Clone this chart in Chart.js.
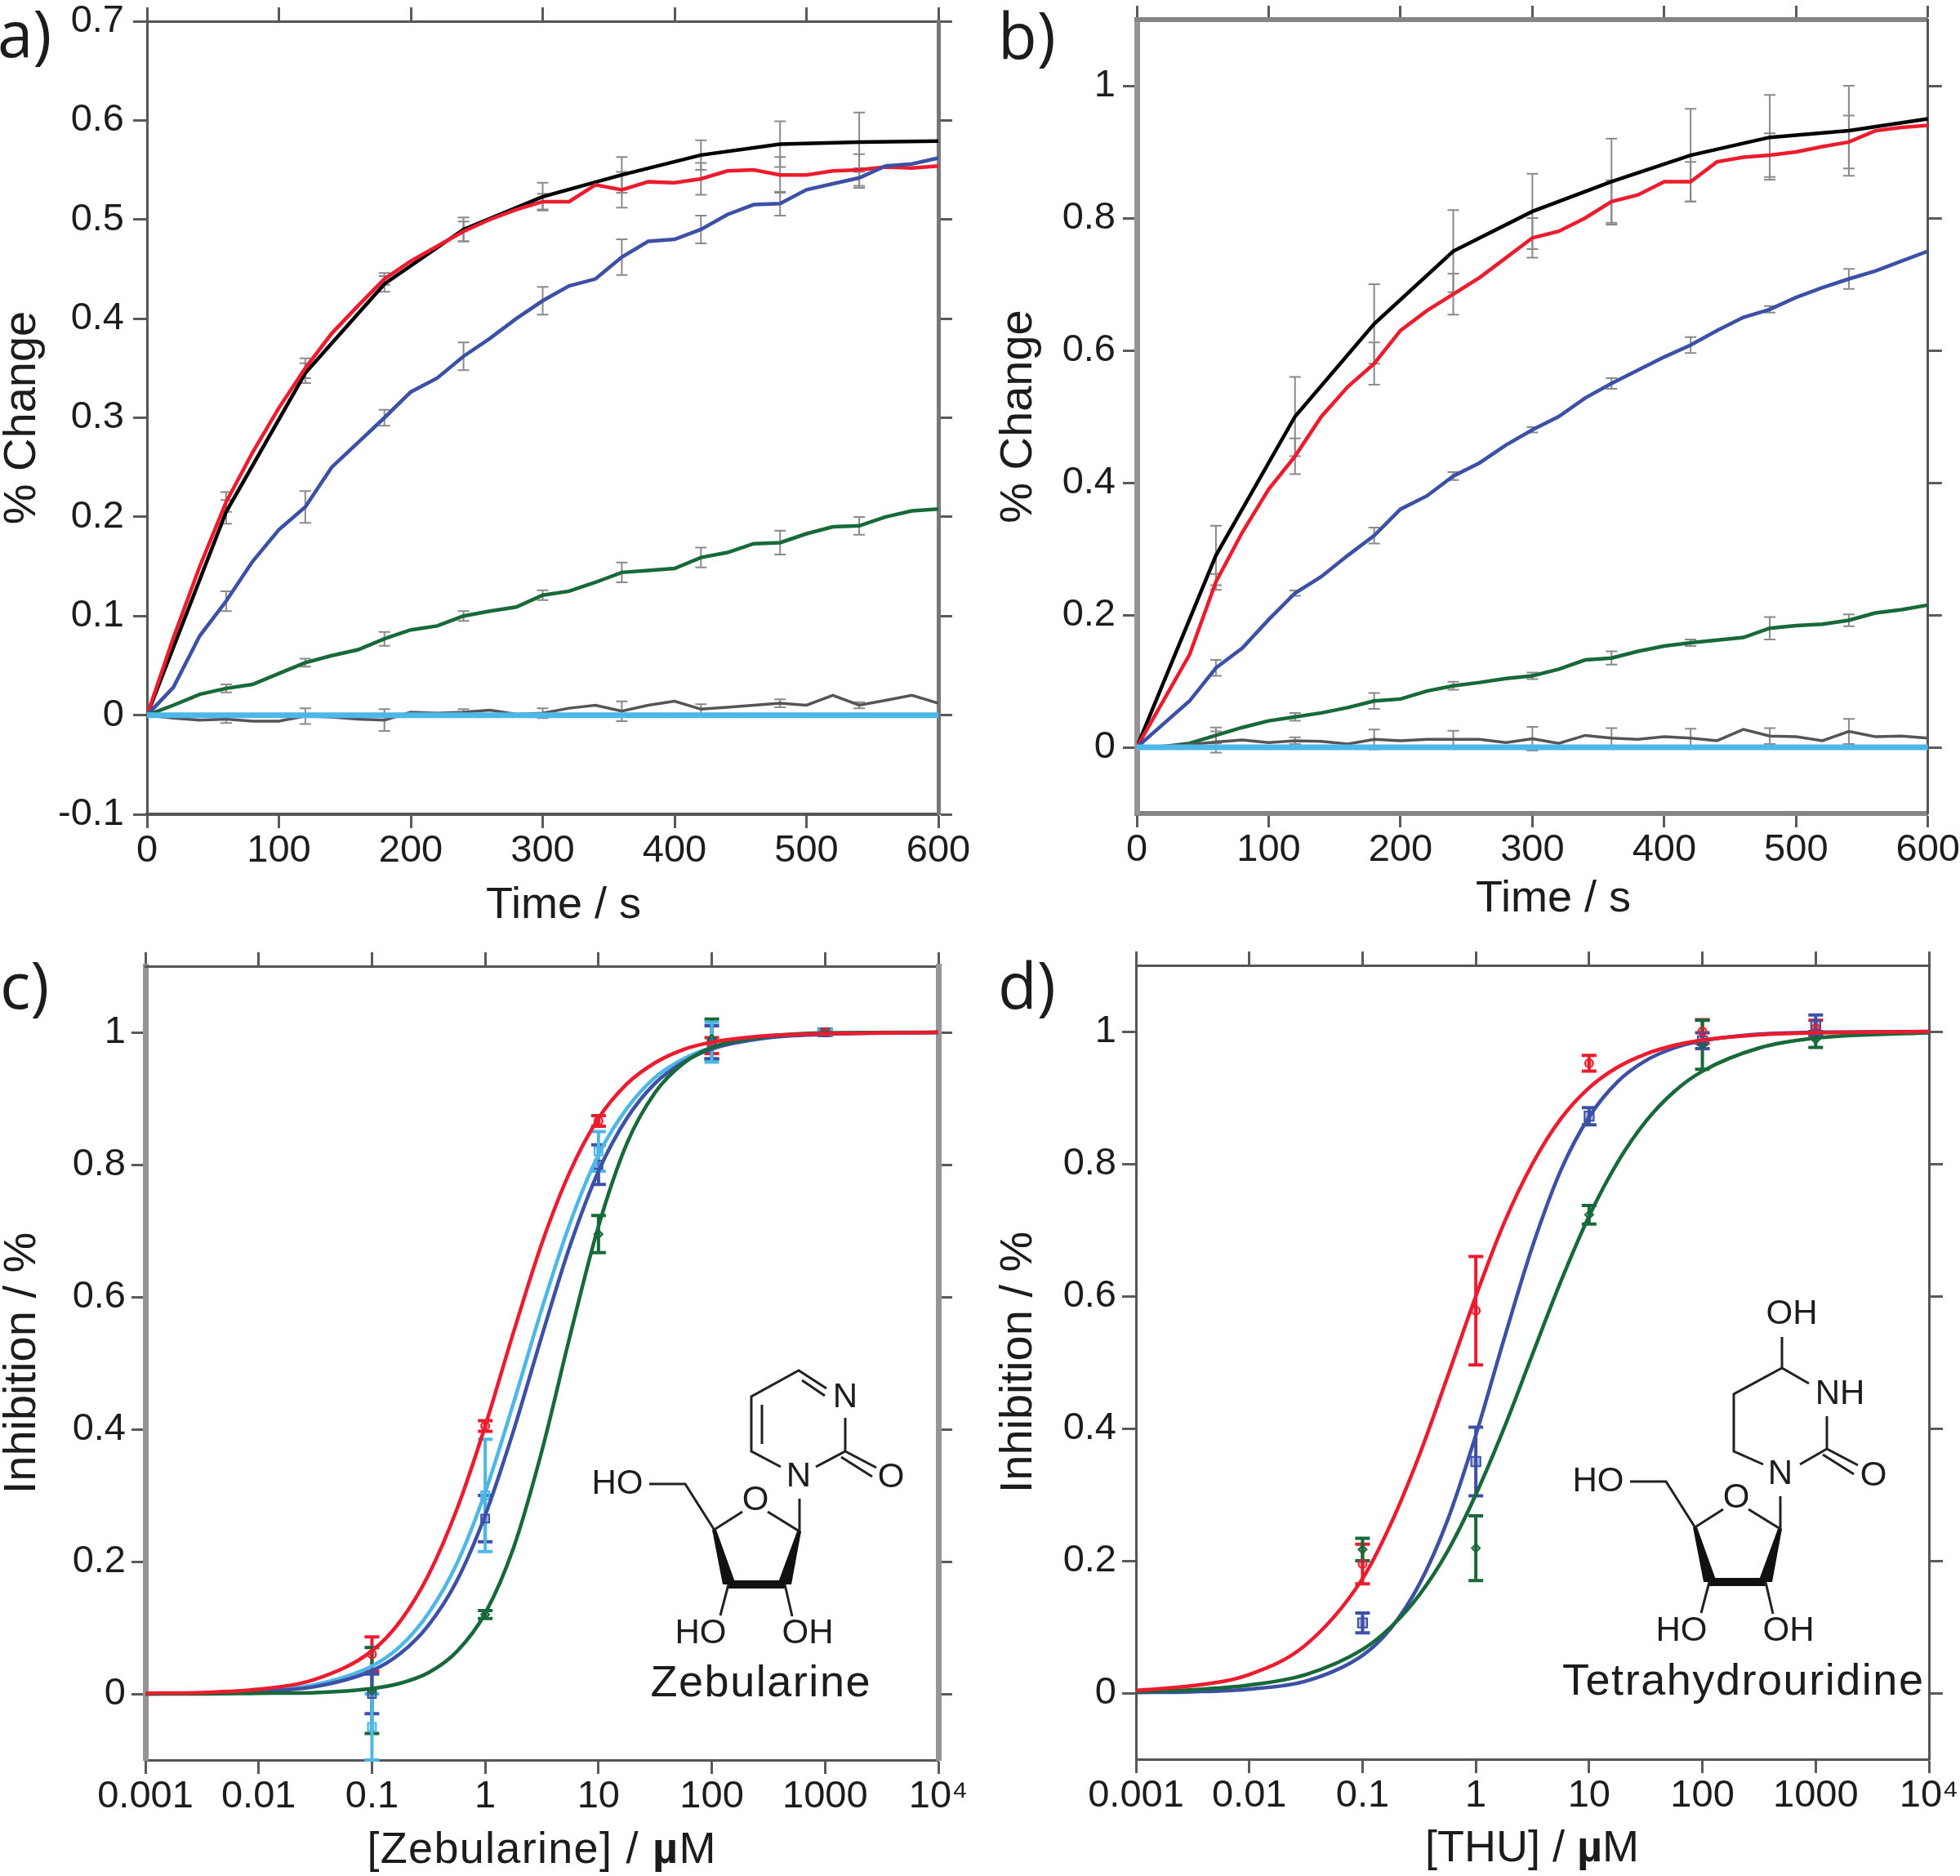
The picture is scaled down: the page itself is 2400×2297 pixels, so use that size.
<!DOCTYPE html>
<html>
<head>
<meta charset="utf-8">
<title>Inhibition kinetics</title>
<script src="https://cdn.jsdelivr.net/npm/chart.js@4"></script>
<style>
  html, body { margin: 0; padding: 0; background: #fff; overflow: hidden; width: 2400px; height: 2297px; }
  #page { position: relative; width: 2400px; height: 2297px; filter: blur(0.6px); overflow: hidden; }
  canvas { position: absolute; }
  svg { position: absolute; left: 0; top: 0; }
  svg text { font-family: "Liberation Sans", Arial, sans-serif; fill: #1c1c1c; }
  svg .letter { font-family: "Open Sans", sans-serif; font-size: 78px; }
  svg .xtitle { font-size: 54px; text-anchor: middle; }
  svg .atom { font-size: 42px; text-anchor: middle; }
  svg .name { font-size: 54px; text-anchor: middle; }
  svg .bond { stroke: #222; stroke-width: 3; fill: none; }
</style>
</head>
<body>
<div id="page">
  <canvas id="a" style="left:0;top:-60px" width="1260" height="1190"></canvas>
  <canvas id="b" style="left:1200px;top:-60px" width="1200" height="1190"></canvas>
  <canvas id="c" style="left:0;top:1130px" width="1260" height="1167"></canvas>
  <canvas id="d" style="left:1200px;top:1130px" width="1200" height="1167"></canvas>

  <svg width="2400" height="2297" viewBox="0 0 2400 2297">
    <defs>
      <g id="ribose">
        <path class="bond" d="M795 1817H839L874.500 1873L909 1851M940 1851L979 1875V1835"/>
        <polygon points="872,1873 877,1873 901,1940 885,1940" fill="#111"/>
        <polygon points="976,1875 981,1875 969,1940 952,1940" fill="#111"/>
        <path d="M892 1940H961" stroke="#111" stroke-width="10"/>
        <path class="bond" d="M892 1940L882 1978M961 1940L970 1979"/>
        <text class="atom" x="756" y="1829">HO</text>
        <text class="atom" x="925" y="1849">O</text>
        <text class="atom" x="858" y="2012">HO</text>
        <text class="atom" x="989" y="2012">OH</text>
      </g>
    </defs>

    <text class="letter" x="-3" y="70">a)</text>
    <text class="letter" x="1222" y="72">b)</text>
    <text class="letter" x="0" y="1235">c)</text>
    <text class="letter" x="1222" y="1235">d)</text>

    <text class="xtitle" x="690" y="1124">Time / s</text>
    <text class="xtitle" x="1902" y="1116">Time / s</text>
    <text class="xtitle" x="663" y="2281" textLength="427">[Zebularine] / <tspan font-weight="bold">µ</tspan>M</text>
    <text class="xtitle" x="1876" y="2279">[THU] / <tspan font-weight="bold">µ</tspan>M</text>

    <!-- Zebularine -->
    <use href="#ribose"/>
    <path class="bond" d="M956 1796L920 1777V1710L978 1678L1012 1700M1035 1736V1777L999 1796M933 1720V1768M982 1690L1010 1709M1035 1777L1073 1797M1030 1784L1068 1808"/>
    <text class="atom" x="978" y="1820">N</text>
    <text class="atom" x="1035" y="1723">N</text>
    <text class="atom" x="1091" y="1821">O</text>
    <text class="name" x="931" y="2077" textLength="269">Zebularine</text>

    <!-- Tetrahydrouridine -->
    <use href="#ribose" transform="translate(1201,-3)"/>
    <path class="bond" d="M2159 1793L2123 1777V1707L2182 1675L2215 1694M2182 1675V1637M2237 1734V1774L2204 1793M2237 1774L2275 1794M2232 1781L2270 1805"/>
    <text class="atom" x="2180" y="1817">N</text>
    <text class="atom" x="2253" y="1719">NH</text>
    <text class="atom" x="2194" y="1621">OH</text>
    <text class="atom" x="2294" y="1819">O</text>
    <text class="name" x="2134" y="2075" textLength="442">Tetrahydrouridine</text>
  </svg>
</div>

<script>
// kinetics, panels a and b (sampled every 20 s, the black fits every 60 s)
const times = [0,20,40,60,80,100,120,140,160,180,200,220,240,260,280,300,320,340,360,380,400,420,440,460,480,500,520,540,560,580,600];
const fitTimes = [0,60,120,180,240,300,360,420,480,540,600];
const errTimes = [60,120,180,240,300,360,420,480,540];
const cyanTimes = [0,600];
const cyanValues = [0,0];

const aBlack = [0,.205,.345,.435,.49,.523,.545,.565,.576,.578,.579];
const aRed = [0,.078,.15,.215,.265,.31,.35,.385,.413,.44,.458,.473,.488,.5,.51,.518,.518,.535,.53,.538,.537,.541,.549,.55,.545,.545,.549,.55,.553,.552,.554];
const aBlue = [0,.028,.08,.115,.155,.187,.21,.25,.275,.3,.326,.34,.362,.38,.4,.418,.433,.44,.462,.478,.48,.49,.505,.515,.516,.53,.536,.542,.554,.556,.562];
const aGreen = [0,.01,.021,.027,.031,.042,.053,.06,.066,.077,.086,.09,.1,.105,.109,.121,.125,.134,.144,.146,.148,.159,.164,.173,.174,.183,.19,.191,.2,.206,.208];
const aGrey = [0,-.003,-.005,-.004,-.006,-.006,-.001,-.002,-.004,-.005,.003,.002,.003,.005,.001,.002,.007,.01,.004,.01,.014,.006,.008,.01,.012,.01,.02,.01,.015,.02,.012];
const aBlackErr = [.012,.01,.008,.012,.014,.018,.015,.023,.03];
const aRedErr = [.01,.01,.006,.01,.008,.018,.016,.018,.016];
const aBlueErr = [.01,.016,.008,.014,.014,.018,.014,.012,.01];
const aGreenErr = [.004,.004,.007,.005,.005,.01,.01,.012,.009];
const aGreyErr = [.004,.008,.011,.003,.005,.01,.005,.004,.003];

const bBlack = [0,.29,.5,.64,.75,.81,.855,.895,.922,.932,.95];
const bRed = [0,.07,.14,.25,.325,.39,.44,.5,.545,.58,.63,.66,.685,.71,.74,.77,.78,.8,.825,.835,.855,.855,.885,.892,.895,.9,.908,.915,.932,.937,.94];
const bBlue = [0,.035,.07,.12,.15,.193,.233,.258,.29,.32,.36,.38,.41,.43,.457,.48,.5,.528,.55,.57,.59,.608,.63,.65,.662,.68,.695,.708,.72,.735,.75];
const bGreen = [0,.001,.006,.018,.03,.04,.046,.052,.06,.07,.073,.085,.093,.098,.104,.108,.118,.132,.135,.145,.153,.158,.162,.166,.18,.184,.186,.192,.203,.208,.215];
const bGrey = [0,.002,.004,.008,.011,.007,.01,.009,.005,.012,.01,.012,.012,.012,.007,.013,.006,.018,.014,.012,.016,.014,.01,.027,.017,.016,.01,.024,.016,.017,.014];
const bBlackErr = [.045,.06,.06,.062,.057,.065,.07,.064,.068];
const bRedErr = [.012,.027,.032,.031,.03,.032,.03,.033,.04];
const bBlueErr = [.012,.004,.012,.006,.004,.008,.012,.005,.015];
const bGreenErr = [.012,.006,.012,.006,.005,.01,.005,.017,.009];
const bGreyErr = [.016,.005,.015,.013,.018,.015,.014,.012,.019];

// dose response, panels c and d
const doseNodes = [0.001,0.00316,0.01,0.0316,0.1,0.178,0.316,0.562,1,1.78,3.16,5.62,10,17.8,31.6,56.2,100,316,1000,10000];
const dosePoints = [0.1,1,10,100,1000];

const cRedFit = [.001,.002,.007,.022,.065,.11,.18,.279,.405,.547,.681,.79,.87,.922,.954,.974,.985,.995,.998,1];
const cBlueFit = [0,.001,.004,.011,.035,.061,.104,.171,.27,.398,.541,.678,.79,.87,.923,.955,.975,.992,.997,1];
const cCyanFit = [0,.001,.005,.014,.042,.072,.122,.197,.305,.44,.582,.712,.815,.885,.932,.96,.977,.993,.998,1];
const cGreenFit = [0,0,.001,.002,.008,.016,.032,.064,.122,.221,.367,.542,.707,.832,.909,.953,.977,.994,.999,1];
const cRedPts = [.06,.405,.866,.98,1];
const cBluePts = [0,.265,.8,.985,1];
const cCyanPts = [-.05,.3,.82,.985,1];
const cGreenPts = [.005,.12,.695,.99,1];
const cRedErr = [.026,.008,.008,.012,.005];
const cBlueErr = [.03,.035,.03,.025,.005];
const cCyanErr = [.05,.085,.03,.03,.004];
const cGreenErr = [.065,.006,.028,.03,.004];

const dRedFit = [.004,.011,.028,.073,.173,.256,.359,.478,.6,.711,.8,.868,.915,.946,.966,.979,.987,.995,.998,1];
const dBlueFit = [.001,.002,.006,.018,.057,.098,.164,.261,.39,.536,.675,.79,.871,.924,.956,.975,.986,.996,.999,1];
const dGreenFit = [.002,.005,.012,.028,.066,.1,.148,.214,.3,.401,.512,.622,.721,.802,.864,.909,.94,.975,.99,.998];
const dRedPts = [.195,.578,.952,1,1.005];
const dBluePts = [.106,.35,.872,.986,1.01];
const dGreenPts = [.217,.219,.723,.98,.988];
const dRedErr = [.03,.082,.012,.018,.012];
const dBlueErr = [.015,.052,.013,.012,.015];
const dGreenErr = [.017,.049,.014,.037,.012];

// axes
const timeTicks = [0,100,200,300,400,500,600];
const aYTicks = [-.1,0,.1,.2,.3,.4,.5,.6,.7];
const fullYTicks = [0,.2,.4,.6,.8,1];
const doseTicks = [0.001,0.01,0.1,1,10,100,1000,10000];
const doseLabels = ['0.001','0.01','0.1','1','10','100','1000','10⁴'];

const RED = '#ec1c2e', BLUE = '#3c50a6', GREEN = '#17693a', CYAN = '#4db8e8', GREY = '#555555', BLACK = '#000000';
const THIN = [3, '#555555'], THICK = [7, '#959595'], MID = [6, '#858585'];
const FONT = '"Liberation Sans", Arial, sans-serif';

function series(xs, ys, color, width, smooth) {
  return {
    data: xs.map((x, i) => ({ x, y: ys[i] })),
    borderColor: color,
    borderWidth: width,
    pointRadius: 0,
    fill: false,
    tension: 0,
    cubicInterpolationMode: smooth ? 'monotone' : 'default'
  };
}

function points(xs, ys, color, style, radius) {
  return {
    data: xs.map((x, i) => ({ x, y: ys[i] })),
    showLine: false,
    pointStyle: style,
    pointRadius: radius,
    pointBorderColor: color,
    pointBorderWidth: 2,
    pointBackgroundColor: color + '66'
  };
}

// error bars go through the chart's own scales
function errorBars(sets) {
  return {
    id: 'errorBars',
    beforeDatasetsDraw(chart) {
      const { ctx, scales } = chart;
      ctx.save();
      sets.forEach(s => {
        ctx.strokeStyle = s.color;
        ctx.lineWidth = s.width;
        s.xs.forEach((x, i) => {
          const px = scales.x.getPixelForValue(x);
          const top = scales.y.getPixelForValue(s.ys[i] + s.errs[i]);
          const bottom = scales.y.getPixelForValue(s.ys[i] - s.errs[i]);
          ctx.beginPath();
          ctx.moveTo(px, top);
          ctx.lineTo(px, bottom);
          ctx.moveTo(px - s.cap, top);
          ctx.lineTo(px + s.cap, top);
          ctx.moveTo(px - s.cap, bottom);
          ctx.lineTo(px + s.cap, bottom);
          ctx.stroke();
        });
      });
      ctx.restore();
    }
  };
}

function kineticErr(xs, ys, errs) {
  return { xs: errTimes, ys: errTimes.map(t => ys[xs.indexOf(t)]), errs, color: '#8a8a8a', width: 2, cap: 7 };
}

function doseErr(ys, errs, color) {
  return { xs: dosePoints, ys, errs, color, width: 4, cap: 9 };
}

function edgeScale(type, position, range, tickValues, edge, size, tickLen) {
  const horizontal = position === 'top' || position === 'bottom';
  return {
    type,
    position,
    min: range[0],
    max: range[1],
    afterBuildTicks: s => { s.ticks = tickValues.map(value => ({ value })); },
    afterFit: s => { if (horizontal) s.height = size; else s.width = size; },
    border: { display: true, width: edge[0], color: edge[1] },
    grid: { drawOnChartArea: false, drawTicks: true, tickLength: tickLen, tickWidth: 3, tickColor: '#5a5a5a' },
    ticks: { display: false }
  };
}

function panel(id, cfg) {
  const x = edgeScale(cfg.xType, 'bottom', cfg.xRange, cfg.xTicks, cfg.edges.bottom, cfg.box.bottom, 17);
  x.ticks = {
    display: true, padding: 0, maxRotation: 0, minRotation: 0, autoSkip: false, color: '#1c1c1c',
    font: { family: FONT, size: 47 },
    callback: (v, i) => cfg.xLabels ? cfg.xLabels[i] : String(v)
  };
  const y = edgeScale('linear', 'left', cfg.yRange, cfg.yTicks, cfg.edges.left, cfg.box.left, 17);
  y.ticks = {
    display: true, padding: cfg.yPad, autoSkip: false, color: '#1c1c1c',
    font: { family: FONT, size: 47 },
    callback: v => String(v)
  };
  y.title = {
    display: true, text: cfg.yTitle, color: '#1c1c1c',
    font: { family: FONT, size: 56, lineHeight: 1 },
    padding: { top: cfg.yTitlePad, bottom: 0 }
  };
  new Chart(document.getElementById(id), {
    type: 'line',
    data: { datasets: cfg.datasets },
    plugins: [errorBars(cfg.errors)],
    options: {
      responsive: false,
      animation: false,
      parsing: { xAxisKey: 'x', yAxisKey: 'y' },
      layout: { padding: 0 },
      plugins: { legend: { display: false }, tooltip: { enabled: false } },
      scales: {
        x,
        y,
        x2: edgeScale(cfg.xType, 'top', cfg.xRange, cfg.xTicks, cfg.edges.top, cfg.box.top, 17),
        y2: edgeScale('linear', 'right', cfg.yRange, cfg.yTicks, cfg.edges.right, cfg.box.right, 17)
      }
    }
  });
}

panel('a', {
  box: { left: 180, top: 86, right: 111, bottom: 133 },
  edges: { left: THIN, top: THIN, right: [5, '#777777'], bottom: [4, '#555555'] },
  xType: 'linear', xRange: [0, 600], xTicks: timeTicks,
  yRange: [-.1, .7], yTicks: aYTicks, yPad: 11, yTitle: '% Change', yTitlePad: 0,
  datasets: [
    series(cyanTimes, cyanValues, CYAN, 7),
    series(times, aGrey, GREY, 3.5),
    series(times, aGreen, GREEN, 4.5),
    series(times, aBlue, BLUE, 4.5),
    series(times, aRed, RED, 4.5),
    series(fitTimes, aBlack, BLACK, 4.5)
  ],
  errors: [
    kineticErr(times, aGrey, aGreyErr), kineticErr(times, aGreen, aGreenErr), kineticErr(times, aBlue, aBlueErr),
    kineticErr(times, aRed, aRedErr), kineticErr(fitTimes, aBlack, aBlackErr)
  ]
});

panel('b', {
  box: { left: 192, top: 84, right: 38, bottom: 134 },
  edges: { left: THICK, top: MID, right: THIN, bottom: MID },
  xType: 'linear', xRange: [0, 600], xTicks: timeTicks,
  yRange: [-.1, 1.1], yTicks: fullYTicks, yPad: 9, yTitle: '% Change', yTitlePad: 20,
  datasets: [
    series(cyanTimes, cyanValues, CYAN, 7),
    series(times, bGrey, GREY, 3.5),
    series(times, bGreen, GREEN, 4.5),
    series(times, bBlue, BLUE, 4.5),
    series(times, bRed, RED, 4.5),
    series(fitTimes, bBlack, BLACK, 4.5)
  ],
  errors: [
    kineticErr(times, bGrey, bGreyErr), kineticErr(times, bGreen, bGreenErr), kineticErr(times, bBlue, bBlueErr),
    kineticErr(times, bRed, bRedErr), kineticErr(fitTimes, bBlack, bBlackErr)
  ]
});

panel('c', {
  box: { left: 178, top: 53, right: 111, bottom: 142 },
  edges: { left: THICK, top: THIN, right: THICK, bottom: THIN },
  xType: 'logarithmic', xRange: [0.001, 10000], xTicks: doseTicks, xLabels: doseLabels,
  yRange: [-.1, 1.1], yTicks: fullYTicks, yPad: 7, yTitle: 'Inhibition / %', yTitlePad: 0,
  datasets: [
    series(doseNodes, cRedFit, RED, 4.5, true),
    series(doseNodes, cGreenFit, GREEN, 4.5, true),
    series(doseNodes, cBlueFit, BLUE, 4.5, true),
    series(doseNodes, cCyanFit, CYAN, 4.5, true),
    points(dosePoints, cRedPts, RED, 'circle', 5),
    points(dosePoints, cGreenPts, GREEN, 'rectRot', 5),
    points(dosePoints, cBluePts, BLUE, 'rect', 7),
    points(dosePoints, cCyanPts, CYAN, 'rect', 7)
  ],
  errors: [
    doseErr(cRedPts, cRedErr, RED), doseErr(cGreenPts, cGreenErr, GREEN),
    doseErr(cBluePts, cBlueErr, BLUE), doseErr(cCyanPts, cCyanErr, CYAN)
  ]
});

panel('d', {
  box: { left: 191, top: 52, right: 38, bottom: 143 },
  edges: { left: THIN, top: THIN, right: THIN, bottom: THIN },
  xType: 'logarithmic', xRange: [0.001, 10000], xTicks: doseTicks, xLabels: doseLabels,
  yRange: [-.1, 1.1], yTicks: fullYTicks, yPad: 7, yTitle: 'Inhibition / %', yTitlePad: 20,
  datasets: [
    series(doseNodes, dRedFit, RED, 4.5, true),
    series(doseNodes, dGreenFit, GREEN, 4.5, true),
    series(doseNodes, dBlueFit, BLUE, 4.5, true),
    points(dosePoints, dRedPts, RED, 'circle', 5),
    points(dosePoints, dGreenPts, GREEN, 'rectRot', 5),
    points(dosePoints, dBluePts, BLUE, 'rect', 8)
  ],
  errors: [
    doseErr(dRedPts, dRedErr, RED), doseErr(dGreenPts, dGreenErr, GREEN), doseErr(dBluePts, dBlueErr, BLUE)
  ]
});
</script>
</body>
</html>
